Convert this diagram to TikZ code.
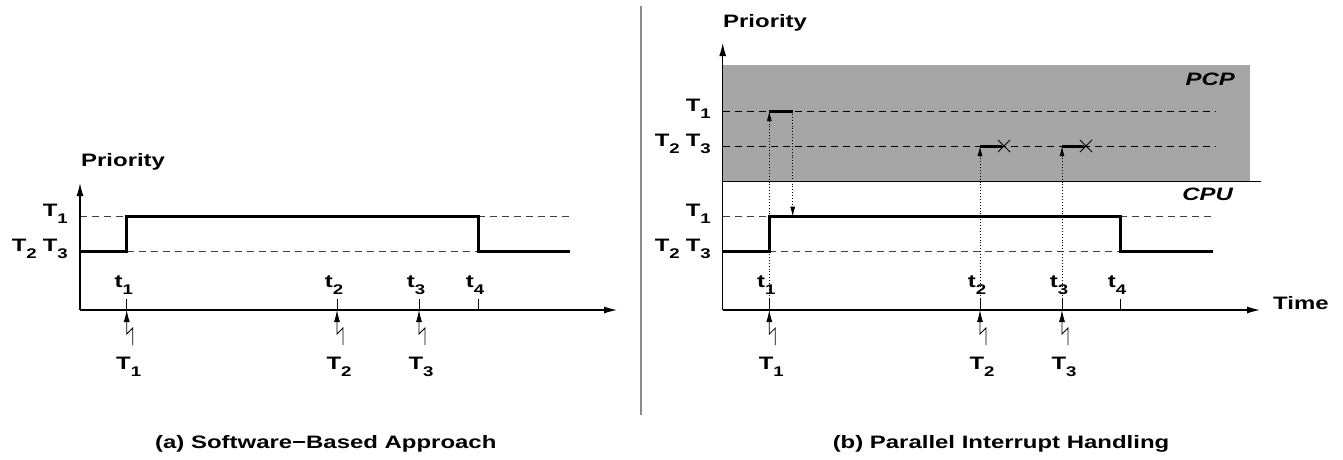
\documentclass[tikz,border=0pt]{standalone}
\usepackage{fontspec}
\setmainfont{Liberation Sans}[FakeStretch=1.33]
\usetikzlibrary{arrows.meta}
\newcommand\sbx[1]{\raisebox{-0.4em}{\fontsize{14}{15}\selectfont #1}}
\begin{document}
\begin{tikzpicture}[x=1pt,y=-1pt,
  lbl/.style={font=\fontsize{18}{20}\selectfont\bfseries, inner sep=0pt},
  axisline/.style={line width=1.1pt, -{Latex[length=13pt,width=7pt]}},
  levelline/.style={line width=0.7pt, dash pattern=on 7pt off 5pt, black!75},
  prio/.style={line width=3pt},
  tick/.style={line width=0.8pt},
  irq/.style={line width=0.8pt, -{Latex[length=12pt,width=6pt]}},
  dotarrow/.style={line width=0.9pt, dotted, -{Latex[length=10pt,width=5pt]}},
  xmark/.style={line width=0.8pt},
  sep/.style={line width=1.2pt, black!45}]
\useasboundingbox (0,0) rectangle (1343,459);

% ---------------- separator
\coordinate (S1) at (641,6);
\coordinate (S2) at (641,415);
\draw[sep] (S1) -- (S2);

% ---------------- left panel (a)
\coordinate (LO) at (80,310);
\coordinate (LYtop) at (80,183);
\coordinate (LXend) at (617,310);
\coordinate (LhiA) at (80,216.7);
\coordinate (LloA) at (80,251);
\coordinate (Lup1) at (126.7,251);
\coordinate (Lup2) at (126.7,216.7);
\coordinate (Ldn1) at (478,216.7);
\coordinate (Ldn2) at (478,251);
\coordinate (LhiE) at (570,216.7);
\coordinate (LloE) at (570,251);

\draw[levelline] (LhiA) -- (Lup2);
\draw[levelline] (Ldn1) -- (LhiE);
\draw[levelline] (Lup1) -- (Ldn2);
\draw[prio] (LloA) -- (Lup1) -- (Lup2) -- (Ldn1) -- (Ldn2) -- (LloE);
\draw[axisline] (LO) -- (LYtop);
\draw[axisline] (LO) -- (LXend);

\node[lbl, anchor=base west] (Lprio) at (81,166) {Priority};
\node[lbl, anchor=base east] (LT1) at (68,216.7) {T\sbx{1}};
\node[lbl, anchor=base east] (LT23) at (68,251) {T\sbx{2}\hspace{6pt}T\sbx{3}};

\foreach \n/\x in {1/126.7,2/337,3/419,4/478} {
  \coordinate (Lt\n a) at (\x,310);
  \coordinate (Lt\n b) at (\x,299);
  \draw[tick] (Lt\n a) -- (Lt\n b);
  \node[lbl, anchor=base] (Ltl\n) at (\x-3,287) {t\sbx{\n}};
}
\foreach \n/\x in {1/126.7,2/337,3/419} {
  \coordinate (Li\n a) at (\x+6,345);
  \coordinate (Li\n b) at (\x+6,328);
  \coordinate (Li\n c) at (\x,334);
  \coordinate (Li\n d) at (\x,310);
  \draw[irq] (Li\n a) -- (Li\n b) -- (Li\n c) -- (Li\n d);
  \node[lbl, anchor=base] (LTl\n) at (\x+2,369) {T\sbx{\n}};
}
\node[lbl, anchor=base west] (capa) at (155,448) {(a) Software\symbol{"2212}Based Approach};

% ---------------- right panel (b)
\coordinate (RO) at (722.7,310);
\coordinate (RYtop) at (722.7,43);
\coordinate (RXend) at (1260,310);
\coordinate (Rg1) at (722.7,65);
\coordinate (Rg2) at (1250,181);
\coordinate (Rdiv1) at (722.7,181);
\coordinate (Rdiv2) at (1261,181);
\fill[black!35] (Rg1) rectangle (Rg2);
\draw[line width=1pt] (Rdiv1) -- (Rdiv2);

% PCP levels
\coordinate (RPhiA) at (722.7,111);
\coordinate (RPhiE) at (1215,111);
\coordinate (RPloA) at (722.7,146);
\coordinate (RPloE) at (1215,146);
\draw[levelline, black] (RPhiA) -- (RPhiE);
\draw[levelline, black] (RPloA) -- (RPloE);

% CPU levels
\coordinate (RhiA) at (722.7,216.7);
\coordinate (RloA) at (722.7,251);
\coordinate (Rup1) at (769.3,251);
\coordinate (Rup2) at (769.3,216.7);
\coordinate (Rdn1) at (1120,216.7);
\coordinate (Rdn2) at (1120,251);
\coordinate (RhiE) at (1215,216.7);
\coordinate (RloE) at (1213,251);
\draw[levelline] (RhiA) -- (Rup2);
\draw[levelline] (Rdn1) -- (RhiE);
\draw[levelline] (Rup1) -- (Rdn2);
\draw[prio] (RloA) -- (Rup1) -- (Rup2) -- (Rdn1) -- (Rdn2) -- (RloE);

% PCP activity
\coordinate (Rp1a) at (769.3,310);
\coordinate (Rp1b) at (769.3,111);
\coordinate (Rp1c) at (792.7,111);
\coordinate (Rp1d) at (792.7,216.7);
\draw[prio] (Rp1b) -- (Rp1c);
\draw[dotarrow] (Rp1a) -- (Rp1b);
\draw[dotarrow] (Rp1c) -- (Rp1d);
\foreach \n/\x in {2/980,3/1062} {
  \coordinate (Rp\n a) at (\x,310);
  \coordinate (Rp\n b) at (\x,146);
  \coordinate (Rp\n c) at (\x+22,146);
  \coordinate (Rx\n a) at (\x+18,140);
  \coordinate (Rx\n b) at (\x+30,152);
  \coordinate (Rx\n c) at (\x+18,152);
  \coordinate (Rx\n d) at (\x+30,140);
  \draw[prio] (Rp\n b) -- (Rp\n c);
  \draw[xmark] (Rx\n a) -- (Rx\n b);
  \draw[xmark] (Rx\n c) -- (Rx\n d);
  \draw[dotarrow] (Rp\n a) -- (Rp\n b);
}

\draw[axisline] (RO) -- (RYtop);
\draw[axisline] (RO) -- (RXend);

\node[lbl, anchor=base west] (Rprio) at (723,27) {Priority};
\node[lbl, anchor=base west] (Rtime) at (1273,309) {Time};
\node[lbl, anchor=base east] (Rpcp) at (1235,85) {\itshape PCP};
\node[lbl, anchor=base east] (Rcpu) at (1233,200) {\itshape CPU};
\node[lbl, anchor=base east] (RPT1) at (711,111) {T\sbx{1}};
\node[lbl, anchor=base east] (RPT23) at (711,146) {T\sbx{2}\hspace{6pt}T\sbx{3}};
\node[lbl, anchor=base east] (RT1) at (711,216.7) {T\sbx{1}};
\node[lbl, anchor=base east] (RT23) at (711,251) {T\sbx{2}\hspace{6pt}T\sbx{3}};

\foreach \n/\x in {1/769.3,2/980,3/1062,4/1120} {
  \coordinate (Rt\n a) at (\x,310);
  \coordinate (Rt\n b) at (\x,299);
  \draw[tick] (Rt\n a) -- (Rt\n b);
  \node[lbl, anchor=base] (Rtl\n) at (\x-3,287) {t\sbx{\n}};
}
\foreach \n/\x in {1/769.3,2/980,3/1062} {
  \coordinate (Ri\n a) at (\x+6,345);
  \coordinate (Ri\n b) at (\x+6,328);
  \coordinate (Ri\n c) at (\x,334);
  \coordinate (Ri\n d) at (\x,310);
  \draw[irq] (Ri\n a) -- (Ri\n b) -- (Ri\n c) -- (Ri\n d);
  \node[lbl, anchor=base] (RTl\n) at (\x+2,369) {T\sbx{\n}};
}
\node[lbl, anchor=base] (capb) at (1001,448) {(b) Parallel Interrupt Handling};
\end{tikzpicture}
\end{document}
